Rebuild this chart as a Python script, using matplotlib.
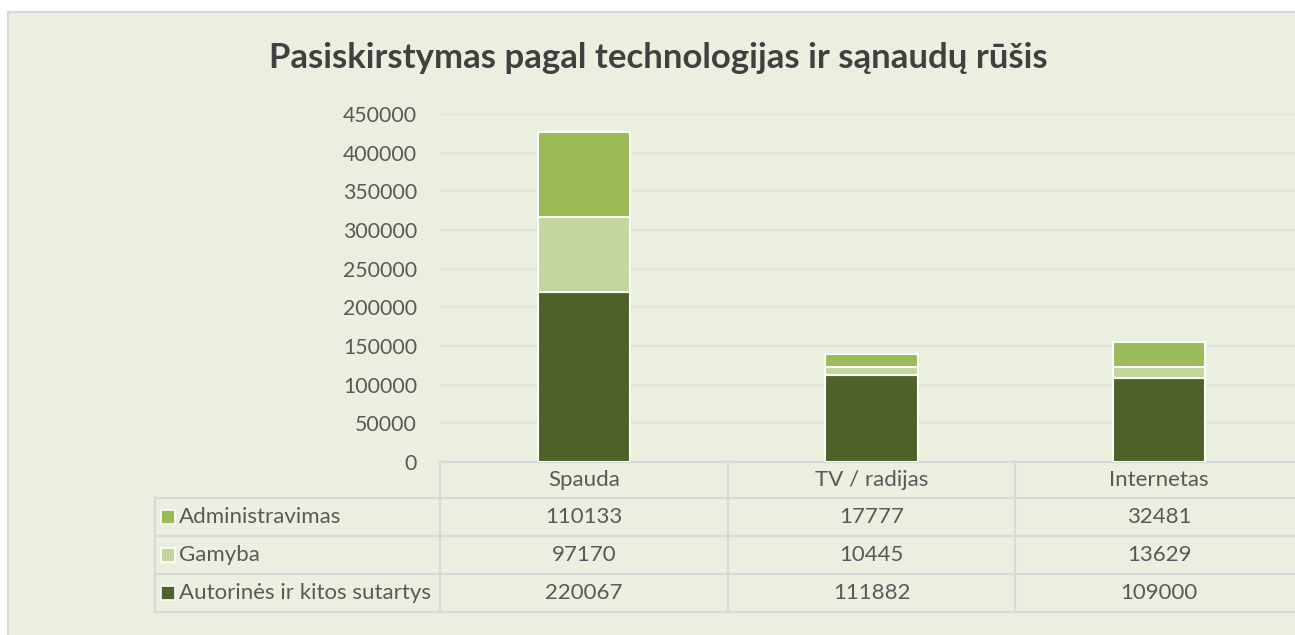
import numpy as np
import matplotlib.pyplot as plt
from matplotlib.patches import Rectangle
from matplotlib.transforms import blended_transform_factory

plt.rcParams['font.family'] = ['Lato', 'DejaVu Sans']

categories = ['Spauda', 'TV / radijas', 'Internetas']
series_names = ['Administravimas', 'Gamyba', 'Autorinės ir kitos sutartys']
autorines = [220067, 111882, 109000]
gamyba = [97170, 10445, 13629]
administravimas = [110133, 17777, 32481]
yticks = [0, 50000, 100000, 150000, 200000, 250000, 300000, 350000, 400000, 450000]

c_admin = '#9BBB59'
c_gam = '#C3D69B'
c_aut = '#4F6228'
bg = '#EBEFDF'
line_c = '#D9D9D9'
txt = '#595959'
fs = 16

W, H = 1295, 635
fig = plt.figure(figsize=(W / 100, H / 100), dpi=100)
fig.patch.set_facecolor('white')

# chart area (cropped on right / bottom like the screenshot)
fig.patches.append(Rectangle((8 / W, -0.05), 1.1, (H - 12) / H + 0.05,
                             transform=fig.transFigure, facecolor=bg,
                             edgecolor=line_c, lw=1.5, zorder=-5))

fig.text(658 / W, 1 - 58 / H, 'Pasiskirstymas pagal technologijas ir sąnaudų rūšis',
         ha='center', va='center', fontsize=25, fontweight='bold', color='#404040')

# plot area in pixels
x0, x1 = 440, 1303
y_top, y_bot = 114, 462
ax = fig.add_axes([x0 / W, 1 - y_bot / H, (x1 - x0) / W, (y_bot - y_top) / H])
ax.set_facecolor('none')
ax.set_zorder(2)

x = np.arange(len(categories))
bw = 0.32
aut = np.array(autorines)
gam = np.array(gamyba)
adm = np.array(administravimas)
ax.bar(x, aut, bw, color=c_aut, edgecolor='white', lw=1.5, zorder=3)
ax.bar(x, gam, bw, bottom=aut, color=c_gam, edgecolor='white', lw=1.5, zorder=3)
ax.bar(x, adm, bw, bottom=aut + gam, color=c_admin, edgecolor='white', lw=1.5, zorder=3)

ax.set_xlim(-0.5, 2.5)
ax.set_ylim(0, 450000)
ax.set_yticks(yticks)
ax.set_yticklabels([str(v) for v in yticks], fontsize=15.3, color=txt)
ax.tick_params(axis='y', length=0, pad=16.5)
ax.set_xticks([])
ax.grid(axis='y', color='#E2E4DA', lw=1.5, zorder=0)
for s in ax.spines.values():
    s.set_visible(False)

# data table below the axes
px_col = (x1 - x0) / 3.0
tr = blended_transform_factory(ax.transData, ax.transAxes)


def ya(py):
    return (y_bot - py) / (y_bot - y_top)


row_edges = [462, 498, 536, 574, 612]
left_edge = -0.5 - (x0 - 155) / px_col
kw = dict(transform=tr, clip_on=False, color=line_c, lw=1.6)

ax.plot([-0.5, 2.5], [ya(462)] * 2, **kw)
for r in row_edges[1:]:
    ax.plot([left_edge, 2.5], [ya(r)] * 2, **kw)
for b in [-0.5, 0.5, 1.5, 2.5]:
    ax.plot([b, b], [ya(462), ya(612)], **kw)
ax.plot([left_edge, left_edge], [ya(498), ya(612)], **kw)

for i, c in enumerate(categories):
    ax.text(i, ya(480), c, transform=tr, ha='center', va='center', fontsize=fs, color=txt)

rows = [(series_names[0], administravimas, c_admin),
        (series_names[1], gamyba, c_gam),
        (series_names[2], autorines, c_aut)]
for k, (name, vals, col) in enumerate(rows):
    yc = (row_edges[k + 1] + row_edges[k + 2]) / 2.0
    mx = left_edge + (168 - 155) / px_col
    ax.scatter([mx], [ya(yc)], transform=tr, marker='s', s=95, color=col,
               edgecolor='white', lw=1.2, clip_on=False, zorder=5)
    ax.text(left_edge + (179 - 155) / px_col, ya(yc), name, transform=tr,
            ha='left', va='center', fontsize=fs, color=txt)
    for i, v in enumerate(vals):
        ax.text(i, ya(yc), str(v), transform=tr, ha='center', va='center',
                fontsize=fs, color=txt)

fig.savefig('out.png', dpi=100)
